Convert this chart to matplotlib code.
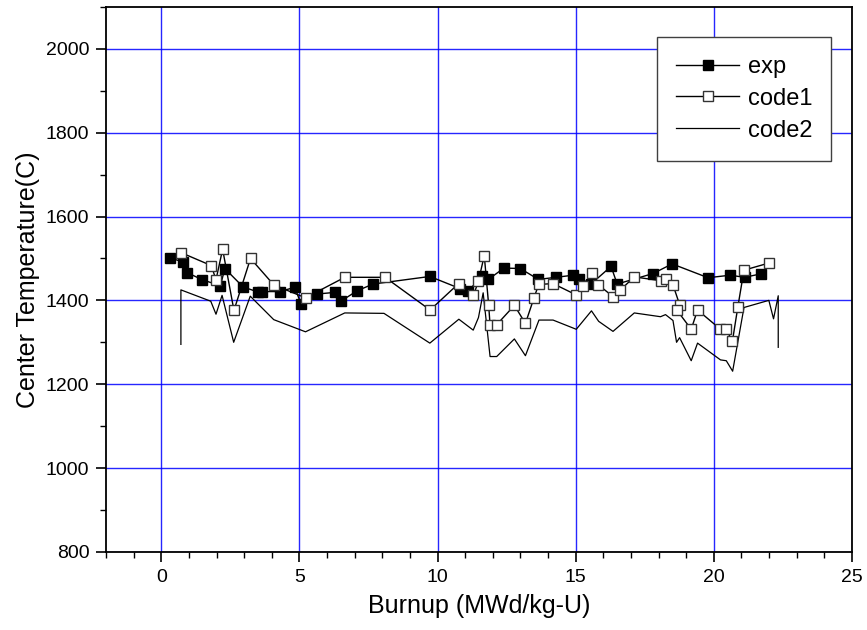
import numpy as np
import matplotlib
matplotlib.use('Agg')
import matplotlib.pyplot as plt
from matplotlib.ticker import MultipleLocator

matplotlib.rcParams['font.family'] = ['Liberation Sans', 'DejaVu Sans']

# ── Measured centre temperature vs burnup ─────────────────────────────────────
exp_burnup = [0.33, 0.77, 0.94, 1.49, 2.14, 2.30, 2.96, 3.50, 3.65, 4.28, 4.83,
              5.06, 5.62, 6.28, 6.50, 7.09, 7.67, 9.72, 10.82, 11.11, 11.60,
              11.84, 12.40, 12.99, 13.65, 14.29, 14.90, 15.11, 15.57, 16.28,
              16.50, 17.80, 18.49, 19.79, 20.59, 21.11, 21.69]
exp_temp = [1501, 1492, 1466, 1449, 1435, 1476, 1432, 1420, 1421, 1421, 1431,
            1391, 1415, 1419, 1398, 1423, 1439, 1457, 1428, 1422, 1458,
            1450, 1477, 1476, 1450, 1455, 1460, 1452, 1440, 1481,
            1439, 1464, 1487, 1454, 1460, 1455, 1463]

# ── code1 prediction ──────────────────────────────────────────────────────────
code1_burnup = [0.71, 1.81, 1.98, 2.22, 2.63, 3.23, 4.07, 5.22, 6.64, 8.10,
                9.73, 10.76, 11.30, 11.48, 11.69, 11.85, 11.90, 12.14, 12.78,
                13.18, 13.49, 13.66, 14.18, 15.02, 15.25, 15.59, 15.82, 16.35,
                16.62, 17.12, 18.07, 18.25, 18.52, 18.76, 18.67, 19.18, 19.41,
                20.24, 20.45, 20.67, 20.87, 21.09, 21.99]
code1_temp = [1514, 1483, 1449, 1522, 1376, 1500, 1437, 1406, 1455, 1455,
              1377, 1440, 1412, 1446, 1507, 1388, 1341, 1342, 1388,
              1345, 1406, 1438, 1440, 1413, 1434, 1465, 1437, 1409,
              1425, 1456, 1447, 1451, 1437, 1390, 1376, 1331, 1377,
              1331, 1331, 1302, 1385, 1472, 1489]

# ── code2 prediction ──────────────────────────────────────────────────────────
code2_burnup = [0.71, 0.71, 1.79, 1.98, 2.20, 2.62, 3.22, 4.07, 5.22, 6.64,
                8.06, 9.72, 10.77, 11.29, 11.48, 11.65, 11.90, 12.14, 12.78,
                13.18, 13.67, 14.18, 15.02, 15.57, 15.83, 16.35, 17.12, 18.07,
                18.25, 18.52, 18.65, 18.76, 19.18, 19.41, 20.24, 20.45, 20.68,
                21.09, 21.99, 22.16, 22.33, 22.33]
code2_temp = [1295, 1425, 1398, 1367, 1412, 1300, 1410, 1354, 1325, 1370,
              1369, 1298, 1355, 1329, 1359, 1418, 1266, 1266, 1308,
              1268, 1353, 1353, 1331, 1375, 1350, 1326, 1370, 1361,
              1366, 1352, 1300, 1311, 1256, 1298, 1258, 1256, 1231,
              1383, 1400, 1356, 1411, 1288]

fig = plt.figure(figsize=(8.67, 6.30), dpi=100)
ax = fig.add_axes([0.1223, 0.124, 0.8604, 0.865])

ax.plot(exp_burnup, exp_temp, color='black', lw=1.0, marker='s',
        markersize=7.2, markerfacecolor='black', markeredgecolor='black',
        label='exp', zorder=4)
ax.plot(code1_burnup, code1_temp, color='black', lw=1.0, marker='s',
        markersize=7.2, markerfacecolor='white', markeredgecolor='#333333',
        markeredgewidth=1.0, label='code1', zorder=5)
ax.plot(code2_burnup, code2_temp, color='black', lw=0.9, label='code2',
        zorder=3)

ax.set_xlim(-2, 25)
ax.set_ylim(800, 2100)
ax.xaxis.set_major_locator(MultipleLocator(5))
ax.xaxis.set_minor_locator(MultipleLocator(1))
ax.yaxis.set_major_locator(MultipleLocator(200))
ax.yaxis.set_minor_locator(MultipleLocator(100))

ax.grid(True, which='major', color='#0000ff', lw=1.0, alpha=0.85)
ax.set_axisbelow(True)

ax.tick_params(which='major', direction='out', length=7, width=1.2,
               labelsize=14, pad=5)
ax.tick_params(which='minor', direction='out', length=4, width=1.0)
for sp in ax.spines.values():
    sp.set_linewidth(1.3)

ax.set_xlabel('Burnup (MWd/kg-U)', fontsize=18, labelpad=6)
ax.set_ylabel('Center Temperature(C)', fontsize=18, labelpad=4)

leg = ax.legend(loc='upper right', bbox_to_anchor=(0.972, 0.945),
                borderaxespad=0, fancybox=False, framealpha=1,
                edgecolor='#404040', fontsize=17, handlelength=2.7,
                handletextpad=0.35, labelspacing=0.42, borderpad=0.8)
leg.get_frame().set_linewidth(1.0)

fig.savefig('out.png', dpi=100)
